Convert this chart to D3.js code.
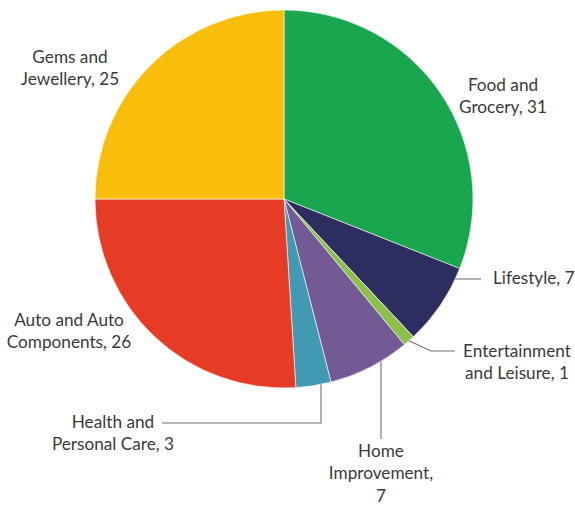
<!DOCTYPE html>
<html>
<head>
<meta charset="utf-8">
<script src="https://cdn.jsdelivr.net/npm/d3@7"></script>
<style>
  html, body { margin: 0; padding: 0; background: #fff; }
  svg text { font-family: Lato, "Open Sans", sans-serif; fill: #3a3a3a; }
</style>
</head>
<body>
<svg id="chart" width="575" height="505"></svg>
<script>
// Sector shares (per cent), clockwise from 12 o'clock
const categories = [
  "Food and Grocery",
  "Lifestyle",
  "Entertainment and Leisure",
  "Home Improvement",
  "Health and Personal Care",
  "Auto and Auto Components",
  "Gems and Jewellery"
];
const values = [31, 7, 1, 7, 3, 26, 25];
const colors = ["#1aa64e", "#2e2d5f", "#8cc04b", "#735a95", "#4299b3", "#e63c25", "#f9be0b"];
// Label text split over lines; the value is appended to the last line
const labelLines = [
  ["Food and", "Grocery,"],
  ["Lifestyle,"],
  ["Entertainment", "and Leisure,"],
  ["Home", "Improvement,", ""],
  ["Health and", "Personal Care,"],
  ["Auto and Auto", "Components,"],
  ["Gems and", "Jewellery,"]
];

const W = 575, H = 505;
const cx = 284, cy = 199, R = 189;
const fontSize = 17.2, lineH = 22.4;

const svg = d3.select("#chart");
const g = svg.append("g").attr("transform", `translate(${cx},${cy})`);

const pie = d3.pie().sort(null).value(d => d);
const arcs = pie(values);
const arc = d3.arc().innerRadius(0).outerRadius(R);
const edge = d3.arc().innerRadius(R).outerRadius(R);

g.selectAll("path.slice")
  .data(arcs)
  .join("path")
  .attr("class", "slice")
  .attr("d", arc)
  .attr("fill", (d, i) => colors[i])
  .attr("stroke", "#ffffff")
  .attr("stroke-width", 0.6);

// Label placement (absolute page coordinates, centre of text block / first baseline)
const labelPos = [
  { x: 503, y: 91, anchor: "middle" },
  { x: 493, y: 284, anchor: "start" },
  { x: 517, y: 356.5, anchor: "middle" },
  { x: 381, y: 457, anchor: "middle" },
  { x: 113, y: 427.5, anchor: "middle" },
  { x: 69, y: 326, anchor: "middle" },
  { x: 70, y: 63, anchor: "middle" }
];

// Leader lines: route kind and where they meet the label
const leaders = [
  null,
  { kind: "h", y: 279, end: 481 },
  { kind: "mid", elbow: [431, 351], end: 455 },
  { kind: "v", x: 381, end: 439 },
  { kind: "v", x: 321, end: 423, turnTo: 162 },
  null,
  null
];

const lines = svg.append("g")
  .attr("fill", "none")
  .attr("stroke", "#6f6f6f")
  .attr("stroke-width", 1.1);

leaders.forEach((L, i) => {
  if (!L) return;
  const d = arcs[i];
  let pts;
  if (L.kind === "h") {
    const dy = L.y - cy;
    const x0 = cx + Math.sqrt(R * R - dy * dy);
    pts = [[x0, L.y], [L.end, L.y]];
  } else if (L.kind === "v") {
    const dx = L.x - cx;
    const y0 = cy + Math.sqrt(R * R - dx * dx);
    pts = [[L.x, y0], [L.x, L.end]];
    if (L.turnTo !== undefined) pts.push([L.turnTo, L.end]);
  } else {
    const c = edge.centroid(d);
    pts = [[cx + c[0], cy + c[1]], L.elbow, [L.end, L.elbow[1]]];
  }
  lines.append("path").attr("d", d3.line()(pts));
});

// Category labels
const labels = svg.append("g").attr("font-size", fontSize);
labelPos.forEach((p, i) => {
  const rows = labelLines[i].slice();
  const last = rows.length - 1;
  rows[last] = rows[last] === "" ? String(values[i]) : rows[last] + " " + values[i];
  const t = labels.append("text")
    .attr("text-anchor", p.anchor)
    .attr("x", p.x)
    .attr("y", p.y);
  rows.forEach((r, k) => {
    t.append("tspan")
      .attr("x", p.x)
      .attr("y", p.y + k * lineH)
      .text(r);
  });
});
</script>
</body>
</html>
